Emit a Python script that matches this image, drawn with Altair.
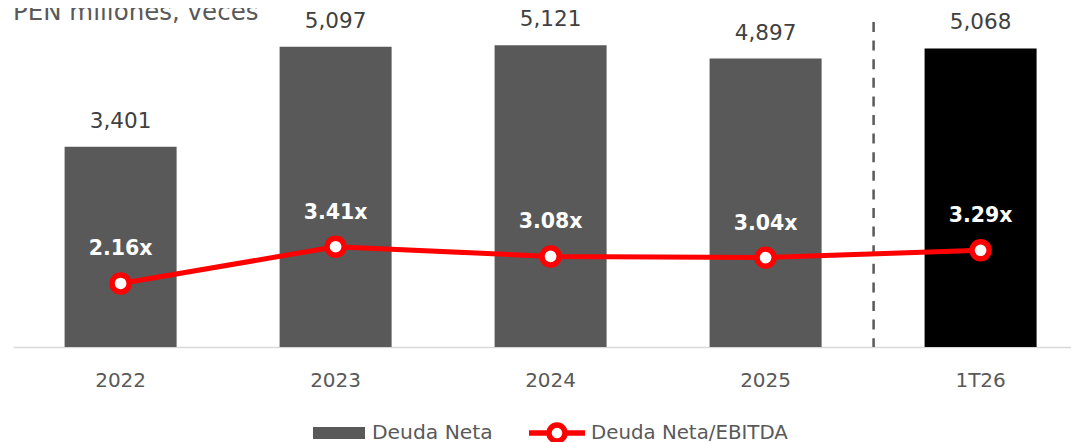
import altair as alt
import pandas as pd

periods = ["2022", "2023", "2024", "2025", "1T26"]
deuda_neta = [3401, 5097, 5121, 4897, 5068]
ratio = [2.16, 3.41, 3.08, 3.04, 3.29]
highlight = "1T26"
serie_barras = "Deuda Neta"
serie_linea = "Deuda Neta/EBITDA"
titulo = ["PEN millones, veces"]

df = pd.DataFrame({
    "periodo": periods,
    "deuda": deuda_neta,
    "ratio": ratio,
    "s1": [serie_barras] * len(periods),
    "s2": [serie_linea] * len(periods),
})

FONT = "DejaVu Sans"
GREY = "#595959"
PAD_L = 5
W, H = 1058, 339

x = alt.X(
    "periodo:N",
    sort=periods,
    scale=alt.Scale(type="band", domain=periods, paddingInner=0.479, paddingOuter=0.2,
                    align=0.6),
    axis=alt.Axis(title=None, ticks=False, tickSize=0, labelAngle=0, labelFont=FONT,
                  labelFontSize=20, labelColor=GREY, labelPadding=39,
                  labelBaseline="alphabetic", domainColor="#d9d9d9", domainWidth=1.5,
                  grid=False),
)
y_bar = alt.Y("deuda:Q", scale=alt.Scale(domain=[0, 5755], nice=False, zero=True), axis=None)
y_line = alt.Y("ratio:Q", scale=alt.Scale(domain=[0, 11.53], nice=False, zero=True), axis=None)

base = alt.Chart(df)

bars = base.mark_bar().encode(
    x=x,
    y=y_bar,
    fill=alt.condition(
        alt.datum.periodo == highlight,
        alt.value("#000000"),
        alt.Fill("s1:N", scale=alt.Scale(domain=[serie_barras], range=[GREY]),
                 legend=alt.Legend(title=None, orient="none", legendX=300, legendY=399,
                                   symbolType="M-1,-0.23H1V0.23H-1Z", symbolSize=2704,
                                   symbolStrokeWidth=0, labelFont=FONT, labelFontSize=20.3,
                                   labelColor=GREY, labelOffset=7, labelLimit=400, padding=0)),
    ),
)

bar_text = base.mark_text(baseline="alphabetic", dy=-19, font=FONT, fontSize=21.5,
                          color="#404040").encode(
    x=x, y=y_bar, text=alt.Text("deuda:Q", format=",.0f")
)

rule = base.transform_filter(alt.datum.periodo == highlight).mark_rule(
    xOffset=-107, strokeDash=[10, 8.6], strokeWidth=2.5, color=GREY
).encode(x=x, y=alt.value(14), y2=alt.value(H))

legend_path = ("M-1,0H-0.286M0.286,0H1M0.286,0A0.286,0.286,0,1,1,-0.286,0"
               "A0.286,0.286,0,1,1,0.286,0Z")

line = base.mark_line(strokeWidth=5).encode(
    x=x,
    y=y_line,
    stroke=alt.Stroke("s2:N", scale=alt.Scale(domain=[serie_linea], range=["#FF0000"]),
                      legend=alt.Legend(title=None, orient="none", legendX=513, legendY=394,
                                        symbolType=legend_path, symbolSize=3136,
                                        symbolStrokeWidth=5.5, symbolFillColor="white",
                                        labelFont=FONT, labelFontSize=19.8, labelColor=GREY,
                                        labelOffset=3, labelLimit=400, padding=0)),
)

points = base.mark_point(shape="circle", filled=True, fill="white", stroke="#FF0000",
                         strokeWidth=5.4, size=292, opacity=1).encode(x=x, y=y_line)

line_text = base.transform_calculate(
    lbl="format(datum.ratio, '.2f') + 'x'"
).mark_text(baseline="alphabetic", dy=-28, font=FONT, fontSize=20.5, fontWeight="bold",
            color="white").encode(x=x, y=y_line, text="lbl:N")

title_text = alt.Chart(pd.DataFrame({"t": titulo})).mark_text(
    align="left", baseline="alphabetic", font=FONT, fontSize=24.5, color=GREY
).encode(x=alt.value(0), y=alt.value(12), text="t:N")

chart = alt.layer(bars, bar_text, rule, line, points, line_text, title_text).resolve_scale(
    y="independent"
).properties(
    width=W,
    height=H,
    padding={"left": PAD_L, "top": 0, "right": 0, "bottom": 95},
    autosize=alt.AutoSizeParams(type="none"),
).configure_view(stroke=None)

chart.save("out.html", embed_options={"renderer": "svg", "actions": False})
